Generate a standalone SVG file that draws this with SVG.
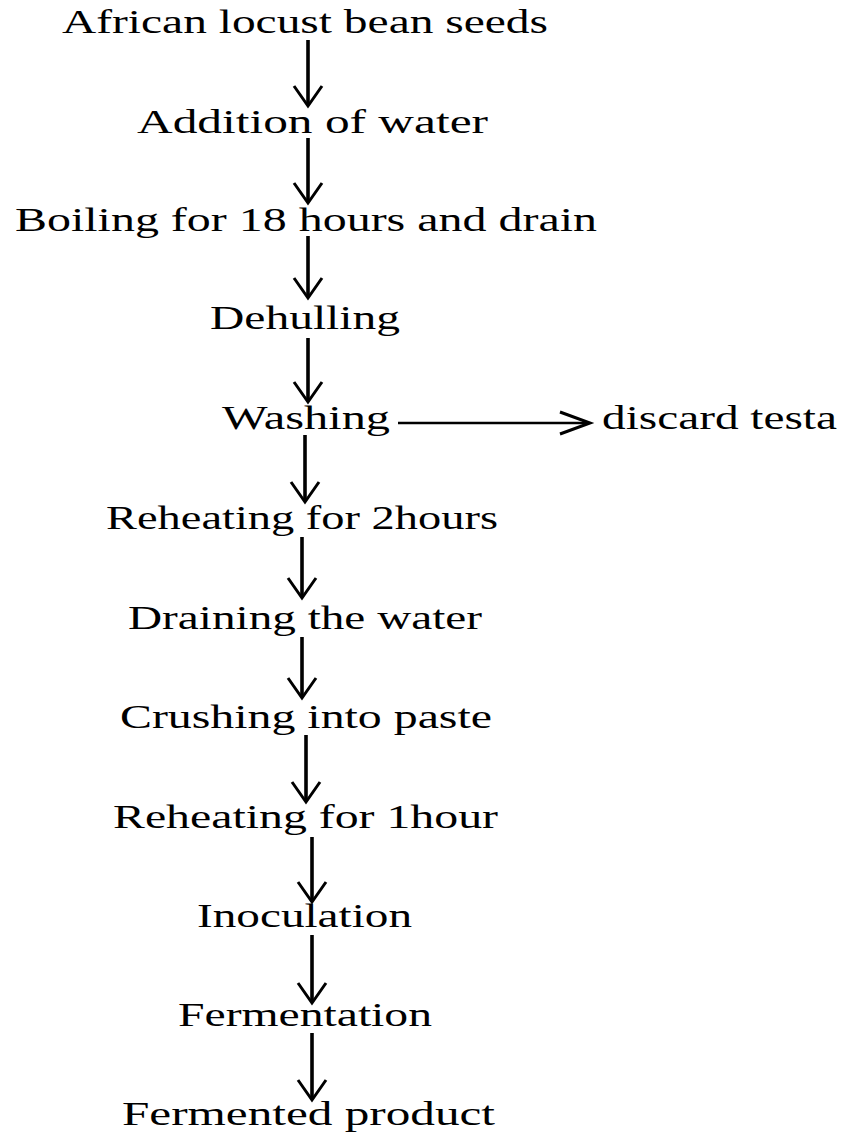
<svg xmlns="http://www.w3.org/2000/svg" width="847" height="1135" viewBox="0 0 847 1135">
<style>
text{font-family:"Liberation Serif","Times New Roman",serif;font-size:34px;fill:#000;}
.shaft{stroke:#000;stroke-width:3.6;fill:none;}
.hshaft{stroke:#000;stroke-width:2.5;fill:none;}
.head{stroke:#000;stroke-width:3;fill:none;stroke-linecap:butt;stroke-linejoin:miter;}
</style>
<rect width="847" height="1135" fill="#fff"/>
<g id="n1"><text x="62" y="33" textLength="486" lengthAdjust="spacingAndGlyphs">African locust bean seeds</text></g>
<g id="n2"><text x="137" y="133" textLength="351" lengthAdjust="spacingAndGlyphs">Addition of water</text></g>
<g id="n3"><text x="15" y="231" textLength="582" lengthAdjust="spacingAndGlyphs">Boiling for 18 hours and drain</text></g>
<g id="n4"><text x="210" y="329" textLength="190" lengthAdjust="spacingAndGlyphs">Dehulling</text></g>
<g id="n5"><text x="222" y="429" textLength="168" lengthAdjust="spacingAndGlyphs">Washing</text></g>
<g id="n5b"><text x="602" y="429" textLength="235" lengthAdjust="spacingAndGlyphs">discard testa</text></g>
<g id="n6"><text x="106" y="529" textLength="392" lengthAdjust="spacingAndGlyphs">Reheating for 2hours</text></g>
<g id="n7"><text x="128" y="629" textLength="354" lengthAdjust="spacingAndGlyphs">Draining the water</text></g>
<g id="n8"><text x="120" y="728" textLength="372" lengthAdjust="spacingAndGlyphs">Crushing into paste</text></g>
<g id="n9"><text x="113" y="828" textLength="385" lengthAdjust="spacingAndGlyphs">Reheating for 1hour</text></g>
<g id="n10"><text x="197" y="927" textLength="215" lengthAdjust="spacingAndGlyphs">Inoculation</text></g>
<g id="n11"><text x="178" y="1026" textLength="254" lengthAdjust="spacingAndGlyphs">Fermentation</text></g>
<g id="n12"><text x="122" y="1125" textLength="373" lengthAdjust="spacingAndGlyphs">Fermented product</text></g>
<g id="connectors">
<path class="shaft" d="M308 40V105"/><path class="head" d="M294 86L308 106L322 86"/>
<path class="shaft" d="M308 138V202"/><path class="head" d="M294 183L308 203L322 183"/>
<path class="shaft" d="M308 236V297"/><path class="head" d="M294 278L308 298L322 278"/>
<path class="shaft" d="M308 338V401"/><path class="head" d="M294 382L308 402L322 382"/>
<path class="shaft" d="M305 435V501"/><path class="head" d="M291 482L305 502L319 482"/>
<path class="shaft" d="M302 537V597"/><path class="head" d="M288 578L302 598L316 578"/>
<path class="shaft" d="M302 637V697"/><path class="head" d="M288 678L302 698L316 678"/>
<path class="shaft" d="M306 735V801"/><path class="head" d="M292 782L306 802L320 782"/>
<path class="shaft" d="M312 837V901"/><path class="head" d="M298 882L312 902L326 882"/>
<path class="shaft" d="M312 935V1002"/><path class="head" d="M298 983L312 1003L326 983"/>
<path class="shaft" d="M312 1033V1099"/><path class="head" d="M298 1080L312 1100L326 1080"/>
<path class="hshaft" d="M398 423H589"/><path class="head" d="M560 412L590 423L560 434"/>
</g>
</svg>
